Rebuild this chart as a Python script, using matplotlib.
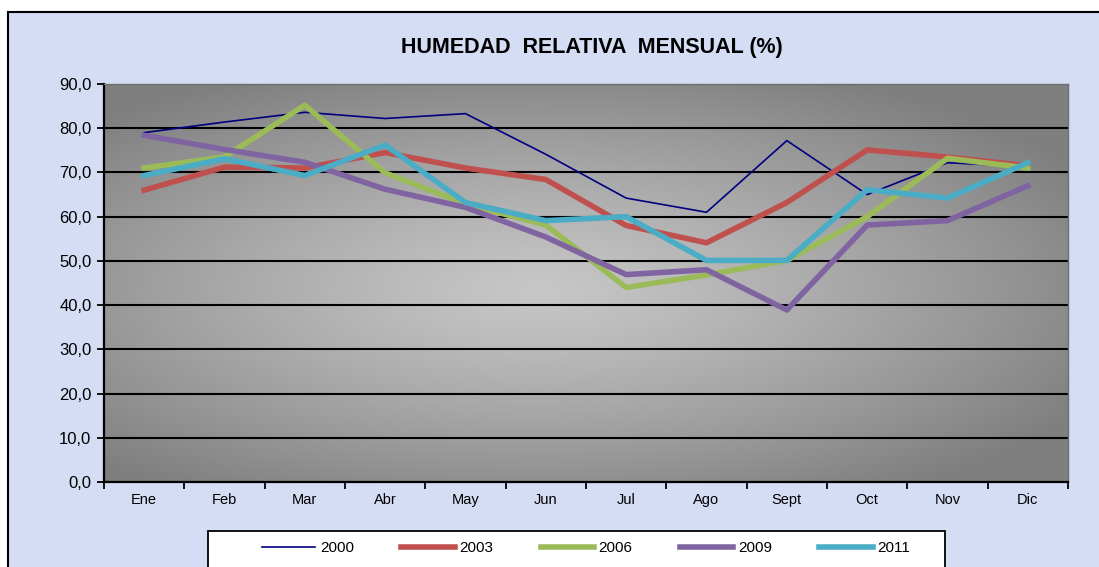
import numpy as np
import matplotlib
matplotlib.use("Agg")
import matplotlib.pyplot as plt
from matplotlib.patches import Rectangle
from matplotlib.ticker import FuncFormatter, FixedLocator

plt.rcParams['font.family'] = ['Liberation Sans', 'DejaVu Sans']

# datos
meses = ["Ene", "Feb", "Mar", "Abr", "May", "Jun", "Jul", "Ago", "Sept", "Oct", "Nov", "Dic"]
h2000 = [79.0, 81.4, 83.6, 82.2, 83.3, 74.1, 64.2, 61.0, 77.2, 65.0, 72.2, 71.3]
h2003 = [66.0, 71.2, 71.0, 74.5, 71.0, 68.4, 58.0, 54.1, 63.2, 75.1, 73.5, 71.5]
h2006 = [71.0, 73.5, 85.2, 69.9, 62.9, 58.1, 44.0, 46.8, 50.1, 60.0, 73.2, 71.0]
h2009 = [78.4, 75.2, 72.3, 66.2, 62.1, 55.4, 46.9, 48.0, 38.9, 58.1, 59.1, 67.0]
h2011 = [69.3, 73.1, 69.3, 76.2, 63.2, 59.1, 60.0, 50.1, 50.1, 66.1, 64.2, 72.2]

series = [("2000", h2000, "#000080", 1.2),
          ("2003", h2003, "#c0504d", 4),
          ("2006", h2006, "#9bbb59", 4),
          ("2009", h2009, "#8064a2", 4),
          ("2011", h2011, "#4bacc6", 4)]

W, H = 1099, 567
fig = plt.figure(figsize=(W / 100, H / 100), dpi=100, facecolor="white")

# fondo del area del grafico con marco
fondo = Rectangle((8 / W, -0.05), 1.1, 1 - 12 / H + 0.05, transform=fig.transFigure,
                  facecolor="#d5ddf4", edgecolor="black", linewidth=1.5, zorder=-5)
fig.patches.append(fondo)

ax = fig.add_axes([104 / W, (H - 482) / H, (1068 - 104) / W, (482 - 84) / H])
ax.set_zorder(1)

# degradado radial gris
gx, gy = np.meshgrid(np.linspace(0, 1, 400), np.linspace(0, 1, 300))
r = np.sqrt(((gx - 0.45) / 0.65) ** 2 + ((gy - 0.48) / 0.6) ** 2)
r = np.clip(r, 0, 1)
val = 0.78 - (0.78 - 0.50) * r ** 1.2
ax.imshow(np.dstack([val, val, val]), extent=[0, 1, 0, 1], transform=ax.transAxes,
          aspect="auto", origin="lower", zorder=0)

x = np.arange(len(meses)) + 0.5
for nombre, vals, color, lw in series:
    ax.plot(x, vals, color=color, linewidth=lw, label=nombre, zorder=3,
            solid_joinstyle="miter" if lw < 2 else "round")

ax.set_xlim(0, 12)
ax.set_ylim(0, 90)
ax.set_yticks(np.arange(0, 91, 10))
ax.yaxis.set_major_formatter(FuncFormatter(lambda v, p: f"{v:.1f}".replace(".", ",")))
ax.grid(axis="y", color="black", linewidth=1.5, zorder=1)
ax.set_axisbelow(True)

ax.xaxis.set_major_locator(FixedLocator(np.arange(0, 13)))
ax.xaxis.set_minor_locator(FixedLocator(x))
ax.set_xticklabels([])
ax.set_xticklabels(meses, minor=True, fontsize=10.5)
ax.tick_params(axis="x", which="major", direction="out", length=5, width=1.3)
ax.tick_params(axis="x", which="minor", length=0, pad=8)
ax.tick_params(axis="y", direction="out", length=5, width=1.3, labelsize=12, pad=4)

for s in ["left", "bottom"]:
    ax.spines[s].set_linewidth(1.6)
    ax.spines[s].set_color("black")
for s in ["top", "right"]:
    ax.spines[s].set_linewidth(1)
    ax.spines[s].set_color("#707070")

fig.text(592 / W, 1 - 48 / H, "HUMEDAD  RELATIVA  MENSUAL (%)", ha="center", va="center",
         fontsize=15.5, fontweight="bold")

# leyenda
fig.patches.append(Rectangle((208 / W, -0.05), (945 - 208) / W, 0.05 + (H - 531) / H,
                             transform=fig.transFigure, facecolor="white", edgecolor="black",
                             linewidth=1.3, zorder=2))
leg = fig.legend(loc="center", bbox_to_anchor=(586 / W, 1 - 548 / H), ncol=5, frameon=False,
                 fontsize=11, handlelength=3.5, handletextpad=0.3, columnspacing=3.1)
leg.set_zorder(3)

fig.savefig("out.png", dpi=100)
